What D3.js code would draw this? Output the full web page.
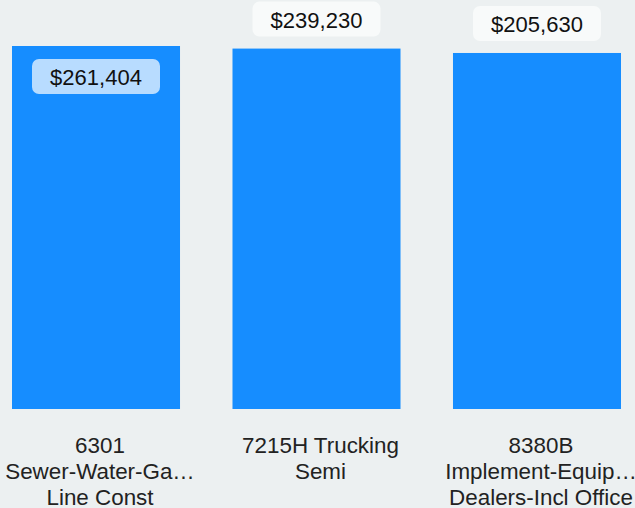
<!DOCTYPE html>
<html>
<head>
  <meta charset="utf-8">
  <title>Top classes by premium</title>
  <script src="https://d3js.org/d3.v7.min.js"></script>
  <style>
    html, body { margin: 0; padding: 0; background: #ecf0f1; }
    svg { display: block; font-family: "Liberation Sans", Arial, sans-serif; }
    .bar { fill: #168dff; }
    .tick-label { fill: #222; font-size: 22.4px; }
    .val { fill: #111; font-size: 22px; }
  </style>
</head>
<body>
<div id="chart"></div>
<script>
  // data
  var codes = ["6301", "7215H", "8380B"];
  var tickLines = [
    ["6301", "Sewer-Water-Ga\u2026", "Line Const"],
    ["7215H Trucking", "Semi"],
    ["8380B", "Implement-Equip\u2026", "Dealers-Incl Office"]
  ];
  var values = [261404, 239230, 205630];

  var width = 635, height = 508;
  var baseY = 409, topY = 46;

  var svg = d3.select("#chart").append("svg")
    .attr("width", width)
    .attr("height", height);

  var x = d3.scaleBand()
    .domain(codes)
    .range([12, 621])
    .paddingInner(0.238)
    .paddingOuter(0);

  // log scale - that's what the original does
  var y = d3.scaleLog()
    .domain([1, d3.max(values)])
    .range([baseY, topY]);

  var fmt = d3.format("$,.0f");

  svg.selectAll("rect.bar")
    .data(values)
    .join("rect")
    .attr("class", "bar")
    .attr("x", function(d, i) { return x(codes[i]); })
    .attr("y", function(d) { return y(d); })
    .attr("width", x.bandwidth())
    .attr("height", function(d) { return baseY - y(d); });

  // value labels
  var boxW = 128, boxH = 35;
  svg.selectAll("g.val-label")
    .data(values)
    .join("g")
    .attr("class", "val-label")
    .each(function(d, i) {
      var top = y(d) - 12 - boxH;
      var inside = top < 0;
      if (inside) top = y(d) + 13;
      var cx = x(codes[i]) + x.bandwidth() / 2;
      var g = d3.select(this);
      g.append("rect")
        .attr("x", cx - boxW / 2)
        .attr("y", top)
        .attr("width", boxW)
        .attr("height", boxH)
        .attr("rx", 7)
        .attr("fill", inside ? "#b8dcff" : "#f8fafa");
      g.append("text")
        .attr("class", "val")
        .attr("x", cx)
        .attr("y", top + 26)
        .attr("text-anchor", "middle")
        .text(fmt(d));
    });

  // category labels (sit a few px right of the bar centre in the original)
  svg.selectAll("text.tick-label")
    .data(tickLines)
    .join("text")
    .attr("class", "tick-label")
    .attr("text-anchor", "middle")
    .attr("x", function(d, i) { return x(codes[i]) + x.bandwidth() / 2 + 4; })
    .attr("y", 453)
    .selectAll("tspan")
    .data(function(d) { return d; })
    .join("tspan")
    .attr("x", function() { return this.parentNode.getAttribute("x"); })
    .attr("dy", function(d, i) { return i === 0 ? 0 : 26; })
    .text(function(d) { return d; });
</script>
</body>
</html>
